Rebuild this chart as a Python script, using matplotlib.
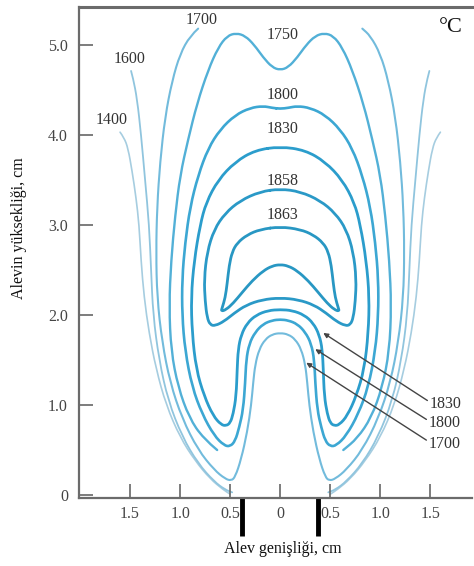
import matplotlib
matplotlib.use("Agg")
import matplotlib.pyplot as plt
from matplotlib.path import Path
from matplotlib.patches import PathPatch
import numpy as np

plt.rcParams['font.family'] = ['Liberation Serif', 'DejaVu Serif']

# half-width (cm) and height (cm) of each isotherm
r_1400 = [1.60, 1.56, 1.52, 1.48, 1.44, 1.41, 1.39, 1.36, 1.31, 1.24, 1.14, 1.00, 0.85, 0.70, 0.57, 0.50]
y_1400 = [4.03, 3.97, 3.85, 3.60, 3.30, 3.00, 2.60, 2.20, 1.80, 1.40, 1.00, 0.64, 0.38, 0.18, 0.06, 0.01]

r_1600 = [1.49, 1.47, 1.43, 1.39, 1.35, 1.31, 1.29, 1.27, 1.21, 1.12, 0.98, 0.82, 0.66, 0.55, 0.48]
y_1600 = [4.71, 4.63, 4.40, 4.00, 3.50, 3.00, 2.50, 2.00, 1.50, 1.05, 0.65, 0.35, 0.15, 0.06, 0.03]

r_1700 = [0.82, 0.90, 1.00, 1.08, 1.15, 1.20, 1.23, 1.24, 1.23, 1.18, 1.10, 0.98, 0.82, 0.66, 0.55,
          0.49, 0.45, 0.39, 0.33, 0.29, 0.27, 0.25, 0.21, 0.15, 0.08, 0.00]
y_1700 = [5.18, 5.10, 4.90, 4.60, 4.20, 3.70, 3.20, 2.70, 2.20, 1.70, 1.25, 0.85, 0.50, 0.28, 0.18,
          0.16, 0.20, 0.40, 0.70, 1.00, 1.25, 1.45, 1.62, 1.73, 1.785, 1.80]

r_1750 = [0.00, 0.08, 0.17, 0.26, 0.35, 0.44, 0.53, 0.62, 0.72, 0.83, 0.92, 1.00, 1.05, 1.09, 1.11,
          1.09, 1.02, 0.91, 0.77, 0.63]
y_1750 = [4.72, 4.75, 4.86, 5.00, 5.10, 5.13, 5.10, 4.97, 4.72, 4.35, 3.95, 3.55, 3.10, 2.60, 2.10,
          1.60, 1.20, 0.86, 0.63, 0.50]

r_1800 = [0.00, 0.08, 0.17, 0.30, 0.45, 0.60, 0.72, 0.82, 0.90, 0.95, 0.98, 0.98, 0.95, 0.88, 0.78,
          0.66, 0.56, 0.50, 0.45, 0.41, 0.37, 0.35, 0.34, 0.31, 0.25, 0.17, 0.08, 0.00]
y_1800 = [4.29, 4.30, 4.32, 4.30, 4.22, 4.06, 3.85, 3.55, 3.20, 2.80, 2.40, 2.00, 1.60, 1.20, 0.90,
          0.66, 0.55, 0.54, 0.60, 0.75, 0.95, 1.25, 1.50, 1.68, 1.81, 1.90, 1.94, 1.95]

r_1830 = [0.00, 0.25, 0.45, 0.62, 0.74, 0.80, 0.86, 0.89, 0.88, 0.84, 0.76, 0.67, 0.59, 0.54, 0.50,
          0.47, 0.44, 0.43, 0.42, 0.39, 0.33, 0.24, 0.12, 0.00]
y_1830 = [3.87, 3.83, 3.70, 3.50, 3.25, 3.00, 2.60, 2.20, 1.80, 1.40, 1.10, 0.88, 0.78, 0.77, 0.80,
          0.90, 1.10, 1.40, 1.62, 1.78, 1.91, 2.00, 2.05, 2.06]

r_1858 = [0.00, 0.20, 0.40, 0.55, 0.66, 0.73, 0.76, 0.75, 0.73, 0.70, 0.65, 0.56, 0.46, 0.34, 0.18, 0.00]
y_1858 = [3.40, 3.37, 3.27, 3.13, 2.95, 2.70, 2.40, 2.15, 1.97, 1.89, 1.88, 1.93, 2.02, 2.11, 2.17, 2.19]

r_1863 = [0.00, 0.20, 0.33, 0.43, 0.48, 0.51, 0.53, 0.55, 0.58, 0.59, 0.54, 0.47, 0.38, 0.28, 0.17, 0.08, 0.00]
y_1863 = [2.98, 2.95, 2.89, 2.80, 2.70, 2.55, 2.35, 2.19, 2.08, 2.04, 2.06, 2.13, 2.25, 2.38, 2.49, 2.545, 2.56]

levels = ['1400', '1600', '1700', '1750', '1800', '1830', '1858', '1863']
half_r = [r_1400, r_1600, r_1700, r_1750, r_1800, r_1830, r_1858, r_1863]
half_y = [y_1400, y_1600, y_1700, y_1750, y_1800, y_1830, y_1858, y_1863]
# how the two halves join: 'open' = two separate branches, 'bottom' = joined at the
# last point, 'top' = joined at the first point, 'loop' = closed curve
joins = ['open', 'open', 'bottom', 'top', 'loop', 'loop', 'loop', 'loop']

top_labels = ['1700', '1600', '1400', '1750', '1800', '1830', '1858', '1863']
top_label_x = [-0.79, -1.50, -1.68, 0.02, 0.02, 0.02, 0.02, 0.02]
top_label_y = [5.28, 4.84, 4.16, 5.11, 4.44, 4.06, 3.49, 3.11]

arrow_labels = ['1830', '1800', '1700']
arrow_from_x = [1.47, 1.46, 1.46]
arrow_from_y = [1.05, 0.84, 0.61]
arrow_to_x = [0.43, 0.35, 0.26]
arrow_to_y = [1.80, 1.62, 1.47]

x_ticks = [-1.5, -1.0, -0.5, 0, 0.5, 1.0, 1.5]
x_tick_labels = ['1.5', '1.0', '0.5', '0', '0.5', '1.0', '1.5']
y_ticks = [0, 1, 2, 3, 4, 5]
y_tick_labels = ['0', '1.0', '2.0', '3.0', '4.0', '5.0']
burner_edges = [-0.38, 0.38]

colors = ['#a6cde0', '#90c5de', '#72bbdc', '#52b0d7', '#3ca7d3', '#2b9dcc', '#2a99c7', '#2897c3']
widths = [1.2, 1.3, 1.5, 1.7, 1.9, 2.0, 2.0, 2.0]


def smooth_path(pts, closed=False):
    # quadratic bezier through the midpoints, so corners come out rounded
    pts = np.asarray(pts, dtype=float)
    if closed:
        mids = (pts + np.roll(pts, -1, axis=0)) / 2
        verts = [mids[-1]]
        codes = [Path.MOVETO]
        for p, m in zip(pts, mids):
            verts += [p, m]
            codes += [Path.CURVE3, Path.CURVE3]
    else:
        verts = [pts[0]]
        codes = [Path.MOVETO]
        for i in range(1, len(pts) - 1):
            verts += [pts[i], (pts[i] + pts[i + 1]) / 2]
            codes += [Path.CURVE3, Path.CURVE3]
        verts.append(pts[-1])
        codes.append(Path.LINETO)
    return Path(verts, codes)


fig = plt.figure(figsize=(4.74, 5.66), dpi=100)
ax = fig.add_axes([0.1667, 0.1201, 0.83, 0.8675])

for r, y, how, c, lw in zip(half_r, half_y, joins, colors, widths):
    right = list(zip(r, y))
    left = [(-a, b) for a, b in right]
    if how == 'open':
        paths = [smooth_path(left), smooth_path(right)]
    elif how == 'bottom':
        paths = [smooth_path(left + right[::-1][1:])]
    elif how == 'top':
        paths = [smooth_path(left[::-1] + right[1:])]
    else:
        paths = [smooth_path(right + left[::-1][1:-1], closed=True)]
    for p in paths:
        ax.add_patch(PathPatch(p, fill=False, edgecolor=c, lw=lw, capstyle='round', joinstyle='round'))

for t, x, y in zip(top_labels, top_label_x, top_label_y):
    ax.text(x, y, t, ha='center', va='center', fontsize=11.5, color='#333333')

for t, x0, y0, x1, y1 in zip(arrow_labels, arrow_from_x, arrow_from_y, arrow_to_x, arrow_to_y):
    ax.annotate('', xy=(x1, y1), xytext=(x0, y0),
                arrowprops=dict(arrowstyle='-|>', color='#444444', lw=1.0,
                                mutation_scale=7, shrinkA=0, shrinkB=0))
    ax.text(x0 + 0.02, y0 - 0.04, t, ha='left', va='center', fontsize=11.5, color='#333333')

ax.text(1.70, 5.19, '°C', ha='center', va='center', fontsize=16, color='#111111')

# burner rim
for bx in burner_edges:
    ax.plot([bx, bx], [-0.03, -0.45], color='black', lw=3.5, clip_on=False, solid_capstyle='butt')

ax.set_xlim(-2.01, 1.92)
ax.set_ylim(-0.033, 5.42)
ax.set_xticks(x_ticks)
ax.set_xticklabels(x_tick_labels)
ax.set_yticks(y_ticks)
ax.set_yticklabels(y_tick_labels)
ax.tick_params(direction='in', length=10, width=1.2, colors='#666666', labelcolor='#444444',
               labelsize=11.5)
ax.tick_params(axis='x', pad=6)
ax.tick_params(axis='y', pad=8)

ax.spines['right'].set_visible(False)
for s in ['left', 'bottom', 'top']:
    ax.spines[s].set_color('#6b6b6b')
ax.spines['left'].set_linewidth(1.6)
ax.spines['bottom'].set_linewidth(1.6)
ax.spines['top'].set_linewidth(2.2)

ax.set_xlabel('Alev genişliği, cm', fontsize=11.5, color='#111111')
ax.set_ylabel('Alevin yüksekliği, cm', fontsize=11.5, color='#111111')
ax.xaxis.set_label_coords(0.517, -0.088)
ax.yaxis.set_label_coords(-0.133, 0.55)

fig.savefig('out.png', dpi=100)
